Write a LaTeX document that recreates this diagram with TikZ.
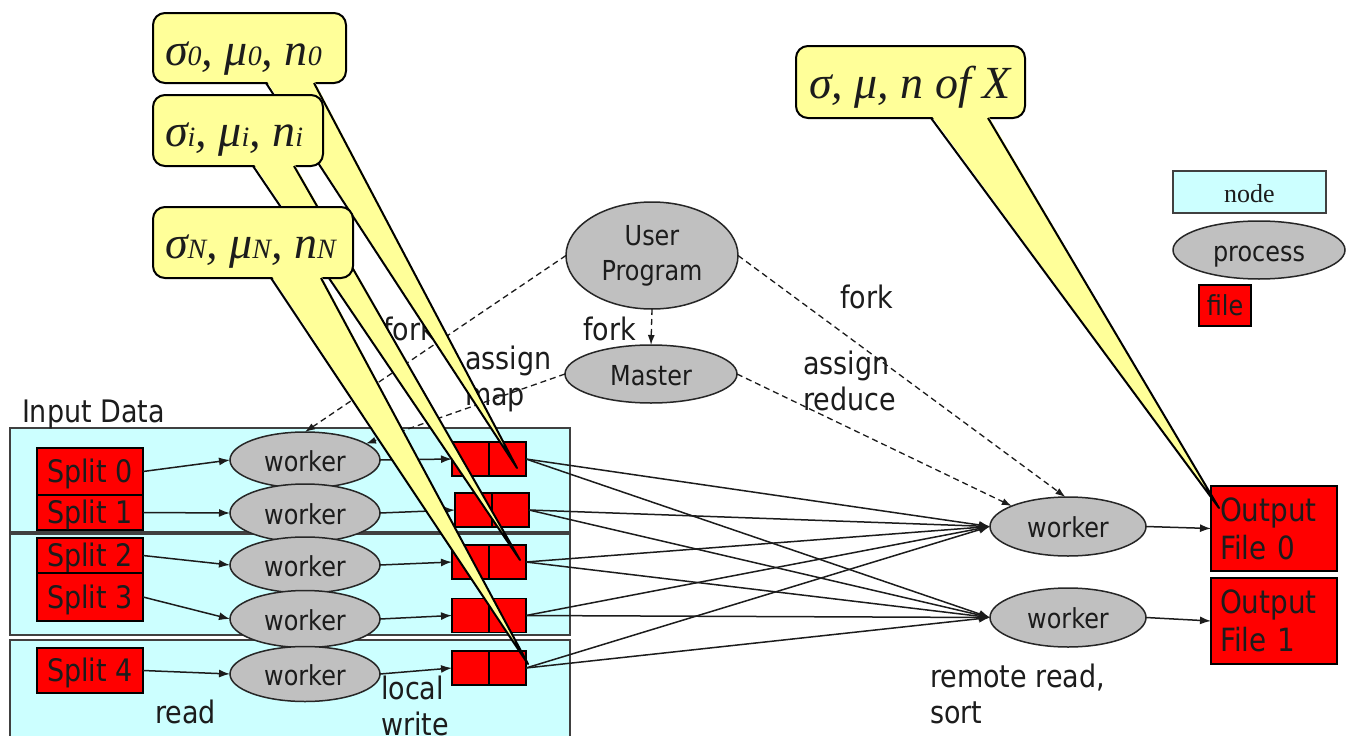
\documentclass[tikz,border=0pt]{standalone}
\usepackage{fontspec}
\newfontfamily\tahfont{DejaVu Sans}[FakeStretch=0.87]
\newfontfamily\timesfont{Liberation Serif}
\usetikzlibrary{shapes.geometric,arrows.meta}
\definecolor{nodecyan}{HTML}{CCFFFF}
\definecolor{procgray}{HTML}{C0C0C0}
\definecolor{noteyellow}{HTML}{FFFF99}
\definecolor{ink}{HTML}{1C1C1C}
\newcommand\labelfont{\tahfont\fontsize{31}{36}\selectfont}
\newcommand\procfont{\tahfont\fontsize{27.5}{35}\selectfont}
\newcommand\outfont{\tahfont\fontsize{32}{38}\selectfont}
\newcommand\legendserif{\timesfont\fontsize{26}{30}\selectfont}
\newcommand\gk[1]{{\fontsize{46}{50}\selectfont#1}}
\newcommand\ix[1]{{\fontsize{28}{30}\selectfont#1}}
\begin{document}
\begin{tikzpicture}[x=1pt, y=-1pt,
  every node/.style={inner sep=0pt, outer sep=0pt, text=ink},
  nodebox/.style={draw=black!75, line width=2pt, fill=nodecyan},
  splitbox/.style={draw=black, line width=1.8pt, fill=red, font=\labelfont,
    minimum width=106pt, text height=22.6pt, text depth=0pt},
  cell/.style={draw=black, line width=1.8pt, fill=red, minimum width=37pt, minimum height=34pt},
  proc/.style={ellipse, draw=black!85, line width=1.5pt, fill=procgray, font=\procfont},
  worker/.style={proc, minimum width=150pt, minimum height=56pt, text height=22pt, text depth=0pt},
  outbox/.style={draw=black, line width=1.8pt, fill=red, font=\outfont, align=left,
    text width=108pt, inner xsep=9pt},
  arr/.style={draw=ink, line width=1.5pt, -{Latex[length=11pt,width=8pt]}},
  dasharr/.style={draw=ink, line width=1.3pt, dash pattern=on 6pt off 4pt,
    -{Latex[length=10pt,width=7pt]}},
  lbl/.style={font=\labelfont, align=left},
  note/.style={draw=black, line width=2pt, fill=noteyellow, rounded corners=12pt,
    anchor=north west, inner xsep=12pt, font=\timesfont\itshape},
  tailedge/.style={draw=black, line width=2pt, line join=round},
]
\useasboundingbox (0,0) rectangle (1347,736);
\fill[white] (0,0) rectangle (1347,736);
\clip (0,0) rectangle (1347,736);

% machines holding the input data
\node[nodebox, anchor=north west, minimum width=560pt, minimum height=104pt] (b0) at (10,428) {};
\node[nodebox, anchor=north west, minimum width=560pt, minimum height=101pt] (b1) at (10,534) {};
\node[nodebox, anchor=north west, minimum width=560pt, minimum height=110pt] (b2) at (10,640) {};
\node[lbl, anchor=base west] (inlbl) at (22,422) {Input Data};

% input splits
\node[splitbox, minimum height=47pt] (s0) at (90,471.5) {Split 0};
\node[splitbox, minimum height=35pt] (s1) at (90,512.5) {Split 1};
\node[splitbox, minimum height=35pt] (s2) at (90,555.5) {Split 2};
\node[splitbox, minimum height=48pt] (s3) at (90,597) {Split 3};
\node[splitbox, minimum height=45pt] (s4) at (90,670.5) {Split 4};

% map workers
\node[worker] (w0) at (305,460) {worker};
\node[worker, minimum height=58pt] (w1) at (305,513) {worker};
\node[worker] (w2) at (305,565) {worker};
\node[worker, minimum height=57pt] (w3) at (305,619) {worker};
\node[worker, minimum height=55pt] (w4) at (305,674) {worker};

% intermediate files, two partitions each
\node[cell] (f0a) at (470.5,459) {};
\node[cell] (f0b) at (507.5,459) {};
\node[cell] (f1a) at (473.5,510) {};
\node[cell] (f1b) at (510.5,510) {};
\node[cell] (f2a) at (470.5,562) {};
\node[cell] (f2b) at (507.5,562) {};
\node[cell] (f3a) at (470.5,615.5) {};
\node[cell] (f3b) at (507.5,615.5) {};
\node[cell] (f4a) at (470.5,668) {};
\node[cell] (f4b) at (507.5,668) {};

% user program and master
\node[proc, minimum width=172pt, minimum height=107pt, align=center] (up) at (652,255.5) {User\\Program};
\node[proc, minimum width=172pt, minimum height=58pt, text height=22pt, text depth=0pt] (ma) at (651,374) {Master};

% reduce workers and output files
\node[worker, minimum width=156pt, minimum height=59pt] (rw0) at (1068,526.5) {worker};
\node[worker, minimum width=156pt, minimum height=59pt] (rw1) at (1068,617.5) {worker};
\node[outbox, minimum height=85pt] (o0) at (1274,528.5) {Output\\File 0};
\node[outbox, minimum height=86pt] (o1) at (1274,621) {Output\\File 1};

% legend
\node[nodebox, line width=1.5pt, minimum width=153pt, minimum height=42pt, font=\legendserif,
  text height=21pt, text depth=0pt] (lgnode) at (1249.5,192) {node};
\node[proc, minimum width=172pt, minimum height=58pt, text height=22pt, text depth=0pt] (lgproc) at (1259,250) {process};
\node[draw=black, line width=1.5pt, fill=red, font=\procfont, minimum width=52pt, minimum height=41pt,
  text height=19pt, text depth=0pt] (lgfile) at (1225,305.5) {file};

% control flow
\draw[dasharr] (up.south) -- (ma.north);
\draw[dasharr] (up.west) -- (w0.north);
\draw[dasharr] (ma.west) -- (w0.15);
\draw[dasharr] (up.east) -- (rw0.95);
\draw[dasharr] (ma.east) -- (rw0.160);

% data flow
\draw[arr] (s0.east) -- (w0.west);
\draw[arr] (s1.east) -- (w1.west);
\draw[arr] (s2.east) -- (w2.west);
\draw[arr] (s3.east) -- (w3.west);
\draw[arr] (s4.east) -- (w4.west);
\draw[arr] (w0.east) -- (f0a.west);
\draw[arr] (w1.east) -- (f1a.west);
\draw[arr] (w2.east) -- (f2a.west);
\draw[arr] (w3.east) -- (f3a.west);
\draw[arr] (w4.east) -- (f4a.west);
\foreach \f in {f0b,f1b,f2b,f3b,f4b}{
  \draw[arr] (\f.east) -- (rw0.west);
  \draw[arr] (\f.east) -- (rw1.west);
}
\draw[arr] (rw0.east) -- (o0.west);
\draw[arr] (rw1.east) -- (o1.west);

% phase labels
\node[lbl, anchor=base west] (forkl) at (383,340) {fork};
\node[lbl, anchor=base west] (forkm) at (583,340) {fork};
\node[lbl, anchor=base west] (forkr) at (840,308) {fork};
\node[lbl, anchor=north west] (amap) at (465,346.4) {assign\\map};
\node[lbl, anchor=north west] (ared) at (803,351.4) {assign\\reduce};
\node[lbl, anchor=north west] (rrs) at (930,664) {remote read,\\sort};
\node[lbl, anchor=base west] (rd) at (155,723) {read};
\node[lbl, anchor=north west] (lw) at (381,676.4) {local\\write};

% statistics callouts
\node[note, minimum width=193pt, minimum height=70pt, text height=34pt, text depth=0pt] (c0) at (153,13)
  {\makebox[169pt][l]{\gk{σ}\ix{0}\gk{, }\gk{μ}\ix{0}\gk{, }\gk{n}\ix{0}}};
\fill[noteyellow] (266,80) -- (517,468) -- (314,80) -- cycle;
\draw[tailedge] (266,83) -- (517,468) -- (314,83);

\node[note, minimum width=170pt, minimum height=71pt, text height=32pt, text depth=0pt] (ci) at (153,95)
  {\makebox[146pt][l]{\gk{σ}\ix{i}\gk{, }\gk{μ}\ix{i}\gk{, }\gk{n}\ix{i}}};
\fill[noteyellow] (253,163) -- (520,560) -- (294,163) -- cycle;
\draw[tailedge] (253,166) -- (520,560) -- (294,166);

\node[note, minimum width=200pt, minimum height=71pt, text height=31pt, text depth=0pt] (cn) at (153,207)
  {\makebox[176pt][l]{\gk{σ}\ix{N}\gk{, }\gk{μ}\ix{N}\gk{, }\gk{n}\ix{N}}};
\fill[noteyellow] (271,275) -- (528,664) -- (321,275) -- cycle;
\draw[tailedge] (271,278) -- (528,664) -- (321,278);

\node[note, minimum width=229pt, minimum height=72pt, text height=32pt, text depth=0pt, inner xsep=13pt] (cx) at (796,46)
  {\makebox[203pt][l]{\gk{σ, μ, n of X}}};
\fill[noteyellow] (931,115) -- (1219,508) -- (988,115) -- cycle;
\draw[tailedge] (931,118) -- (1219,508) -- (988,118);
\end{tikzpicture}
\end{document}
